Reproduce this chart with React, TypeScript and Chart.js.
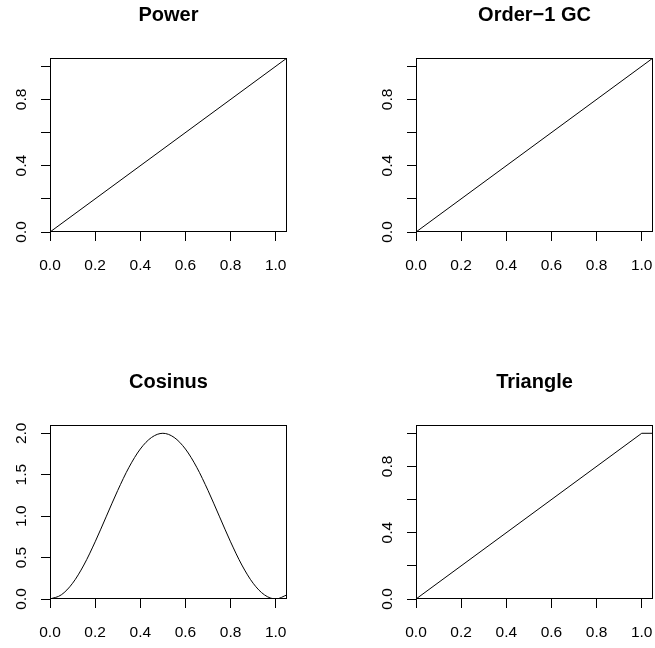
import React, { useEffect, useRef } from "react";
import { Chart, registerables } from "chart.js";

Chart.register(...registerables);

const FONT = "'Liberation Sans', Arial, Helvetica, sans-serif";

// Titles
const panelTitles = ["Power", "Order\u22121 GC", "Cosinus", "Triangle"];

// Series (x / y values)
const powerX = [0, 1.05];
const powerY = [0, 1.05];

const gcX = [0, 1.05];
const gcY = [0, 1.05];

const cosX = [0, 0.05, 0.1, 0.15, 0.2, 0.25, 0.3, 0.35, 0.4, 0.45, 0.5, 0.55, 0.6, 0.65, 0.7, 0.75, 0.8, 0.85, 0.9, 0.95, 1.0, 1.05];
const cosY = [0, 0.05, 0.19, 0.41, 0.69, 1.0, 1.31, 1.59, 1.81, 1.95, 2.0, 1.95, 1.81, 1.59, 1.31, 1.0, 0.69, 0.41, 0.19, 0.05, 0, 0.05];

const triX = [0, 1.0, 1.05];
const triY = [0, 1.0, 1.0];

// Axis ranges and ticks
const xRange = [0, 1.05];
const unitYRange = [0, 1.05];
const cosYRange = [0, 2.1];

const xTicks = [0, 0.2, 0.4, 0.6, 0.8, 1.0];
const xTickLabels = ["0.0", "0.2", "0.4", "0.6", "0.8", "1.0"];

const unitYTicks = [0, 0.2, 0.4, 0.6, 0.8, 1.0];
const unitYTickLabels = ["0.0", "", "0.4", "", "0.8", ""];

const cosYTicks = [0, 0.5, 1.0, 1.5, 2.0];
const cosYTickLabels = ["0.0", "0.5", "1.0", "1.5", "2.0"];

type PanelProps = {
  title: string;
  xs: number[];
  ys: number[];
  yRange: number[];
  yTicks: number[];
  yLabels: string[];
  smooth: boolean;
  left: number;
  top: number;
  width: number;
  height: number;
};

const BOX_LEFT = 50;
const BOX_RIGHT = 287;
const BOX_TOP = 58;
const BOX_BOTTOM = 232;
const TICK_FONT = 15.5;
const TITLE_FONT = 20;

function Panel(p: PanelProps) {
  const ref = useRef<HTMLCanvasElement | null>(null);
  useEffect(() => {
    if (!ref.current) return;
    const boxPlugin = {
      id: "rbox",
      afterDraw(chart: any) {
        const ctx = chart.ctx;
        const a = chart.chartArea;
        ctx.save();
        ctx.strokeStyle = "#000";
        ctx.lineWidth = 1;
        const l = Math.round(a.left) + 0.5;
        const t = Math.round(a.top) + 0.5;
        const r = Math.round(a.right) - 0.5;
        const b = Math.round(a.bottom) - 0.5;
        ctx.strokeRect(l, t, r - l, b - t);
        // rotated y tick labels (R style, las = 0)
        const ys = chart.scales.y;
        ctx.fillStyle = "#000";
        ctx.font = `${TICK_FONT}px ${FONT}`;
        ctx.textAlign = "center";
        ctx.textBaseline = "middle";
        p.yTicks.forEach((v, i) => {
          const lab = p.yLabels[i];
          if (!lab) return;
          const py = ys.getPixelForValue(v);
          ctx.save();
          ctx.translate(a.left - 28, py);
          ctx.rotate(-Math.PI / 2);
          ctx.fillText(lab, 0, 0);
          ctx.restore();
        });
        ctx.restore();
      },
    };
    const titleLine = TITLE_FONT * 1.2;
    const chart = new Chart(ref.current, {
      type: "line",
      data: {
        datasets: [
          {
            data: p.xs.map((x, i) => ({ x, y: p.ys[i] })),
            borderColor: "#000",
            borderWidth: 1,
            pointRadius: 0,
            fill: false,
            tension: 0,
            cubicInterpolationMode: p.smooth ? "monotone" : "default",
          } as any,
        ],
      },
      options: {
        animation: false,
        responsive: false,
        events: [],
        layout: { padding: { top: 0, left: 0, bottom: 0, right: p.width - BOX_RIGHT } },
        plugins: {
          legend: { display: false },
          tooltip: { enabled: false },
          title: {
            display: true,
            text: p.title,
            fullSize: false,
            color: "#000",
            font: { family: FONT, size: TITLE_FONT, weight: "bold" },
            padding: { top: 15 - titleLine / 2, bottom: BOX_TOP - (15 - titleLine / 2) - titleLine },
          },
        },
        scales: {
          x: {
            type: "linear",
            min: xRange[0],
            max: xRange[1],
            afterBuildTicks: (s: any) => {
              s.ticks = xTicks.map((v) => ({ value: v }));
            },
            afterFit: (s: any) => {
              s.height = p.height - BOX_BOTTOM;
              s.paddingLeft = 0;
              s.paddingRight = 0;
            },
            grid: { drawOnChartArea: false, drawTicks: true, tickLength: 9, tickColor: "#000", tickWidth: 1 },
            border: { display: false },
            ticks: {
              color: "#000",
              font: { family: FONT, size: TICK_FONT },
              padding: 15,
              maxRotation: 0,
              minRotation: 0,
              autoSkip: false,
              callback: (_v: any, i: number) => xTickLabels[i],
            },
          },
          y: {
            type: "linear",
            min: p.yRange[0],
            max: p.yRange[1],
            afterBuildTicks: (s: any) => {
              s.ticks = p.yTicks.map((v) => ({ value: v }));
            },
            afterFit: (s: any) => {
              s.width = BOX_LEFT;
              s.paddingTop = 0;
              s.paddingBottom = 0;
            },
            grid: { drawOnChartArea: false, drawTicks: true, tickLength: 9, tickColor: "#000", tickWidth: 1 },
            border: { display: false },
            ticks: { display: false },
          },
        },
      } as any,
      plugins: [boxPlugin],
    });
    return () => chart.destroy();
  }, []);
  return (
    <div style={{ position: "absolute", left: p.left, top: p.top, width: p.width, height: p.height }}>
      <canvas ref={ref} width={p.width} height={p.height} style={{ display: "block", width: p.width, height: p.height }} />
    </div>
  );
}

export default function App() {
  const W = 289;
  return (
    <div style={{ position: "absolute", left: 0, top: 0, width: 655, height: 648, background: "#fff", overflow: "hidden" }}>
      <Panel title={panelTitles[0]} xs={powerX} ys={powerY} yRange={unitYRange} yTicks={unitYTicks} yLabels={unitYTickLabels} smooth={false} left={0} top={0} width={W} height={300} />
      <Panel title={panelTitles[1]} xs={gcX} ys={gcY} yRange={unitYRange} yTicks={unitYTicks} yLabels={unitYTickLabels} smooth={false} left={366} top={0} width={W} height={300} />
      <Panel title={panelTitles[2]} xs={cosX} ys={cosY} yRange={cosYRange} yTicks={cosYTicks} yLabels={cosYTickLabels} smooth={true} left={0} top={367} width={W} height={281} />
      <Panel title={panelTitles[3]} xs={triX} ys={triY} yRange={unitYRange} yTicks={unitYTicks} yLabels={unitYTickLabels} smooth={false} left={366} top={367} width={W} height={281} />
    </div>
  );
}
